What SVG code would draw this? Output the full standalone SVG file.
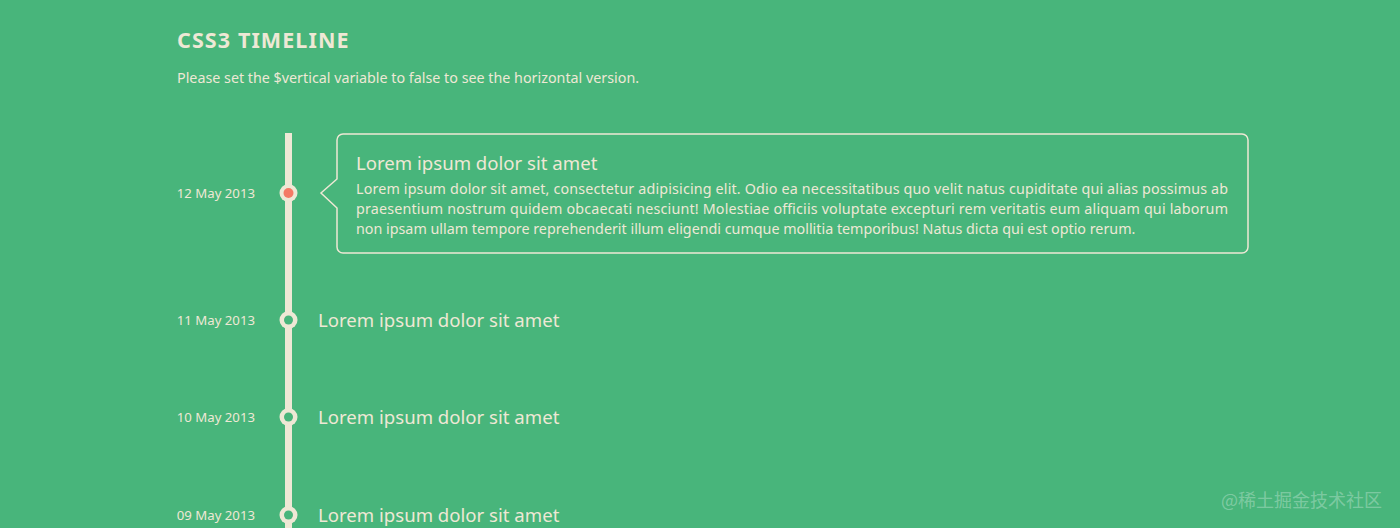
<svg xmlns="http://www.w3.org/2000/svg" width="1400" height="528" viewBox="0 0 1400 528">
<style>
text{font-family:"Noto Sans","Open Sans","Liberation Sans",sans-serif;fill:#eee8d5}
.title{font-size:21.5px;font-weight:bold;letter-spacing:1.1px}
.sub{font-size:14.3px}
.date{font-size:13.2px;text-anchor:end}
.head{font-size:18.6px}
.body{font-size:14.3px}
.wm{font-family:"Noto Sans CJK SC",sans-serif;font-size:18px;fill:#ffffff;fill-opacity:0.3}
</style>
<rect width="1400" height="528" fill="#48b57b"/>
<text class="title" x="177" y="48">CSS3 TIMELINE</text>
<text class="sub" x="177" y="83">Please set the $vertical variable to false to see the horizontal version.</text>
<g id="connectors">
<rect x="285" y="133" width="7" height="395" fill="#eee8d5"/>
</g>
<g id="item1">
<text class="date" x="255" y="198">12 May 2013</text>
<circle cx="288.5" cy="193" r="9" fill="#eee8d5"/>
<circle cx="288.5" cy="193" r="5" fill="#f47a65"/>
<path d="M343,134 H1242 A6,6 0 0 1 1248,140 V247 A6,6 0 0 1 1242,253 H343 A6,6 0 0 1 337,247 V208 L321,193 L337,179 V140 A6,6 0 0 1 343,134 Z" fill="none" stroke="#eee8d5" stroke-width="1.5"/>
<text class="head" x="356" y="170">Lorem ipsum dolor sit amet</text>
<text class="body" x="356" y="194" textLength="872" lengthAdjust="spacing">Lorem ipsum dolor sit amet, consectetur adipisicing elit. Odio ea necessitatibus quo velit natus cupiditate qui alias possimus ab</text>
<text class="body" x="356" y="214" textLength="872" lengthAdjust="spacing">praesentium nostrum quidem obcaecati nesciunt! Molestiae officiis voluptate excepturi rem veritatis eum aliquam qui laborum</text>
<text class="body" x="356" y="234">non ipsam ullam tempore reprehenderit illum eligendi cumque mollitia temporibus! Natus dicta qui est optio rerum.</text>
</g>
<g id="item2">
<text class="date" x="255" y="325">11 May 2013</text>
<circle cx="288.5" cy="320" r="9" fill="#eee8d5"/>
<circle cx="288.5" cy="320" r="4.5" fill="#48b57b"/>
<text class="head" x="318" y="327">Lorem ipsum dolor sit amet</text>
</g>
<g id="item3">
<text class="date" x="255" y="422">10 May 2013</text>
<circle cx="288.5" cy="417" r="9" fill="#eee8d5"/>
<circle cx="288.5" cy="417" r="4.5" fill="#48b57b"/>
<text class="head" x="318" y="424">Lorem ipsum dolor sit amet</text>
</g>
<g id="item4">
<text class="date" x="255" y="520">09 May 2013</text>
<circle cx="288.5" cy="515" r="9" fill="#eee8d5"/>
<circle cx="288.5" cy="515" r="4.5" fill="#48b57b"/>
<text class="head" x="318" y="522">Lorem ipsum dolor sit amet</text>
</g>
<text class="wm" x="1221" y="507">@稀土掘金技术社区</text>
</svg>
